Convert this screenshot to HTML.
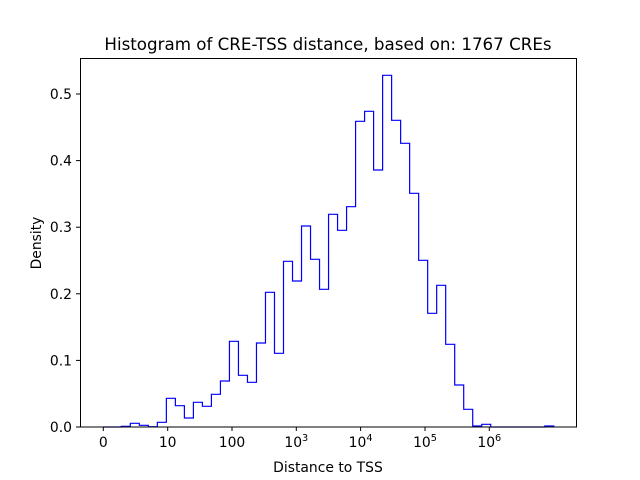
<!DOCTYPE html>
<html><head><meta charset="utf-8"><style>
html,body{margin:0;padding:0;background:#fff;}
svg{display:block;font-family:"DejaVu Sans","Liberation Sans",sans-serif;}
</style></head><body>
<svg id="s" width="640" height="480" xmlns="http://www.w3.org/2000/svg">
<rect width="640" height="480" fill="#fff"/>
<path id="h" fill="none" stroke="#0000ff" stroke-width="1.2" stroke-linejoin="miter"/>
<rect x="80.5" y="58.5" width="496" height="368.5" fill="none" stroke="#000" stroke-width="1"/>
<g stroke="#000" stroke-width="1">
<line x1="103.3" y1="427" x2="103.3" y2="431"/>
<line x1="167.7" y1="427" x2="167.7" y2="431"/>
<line x1="232" y1="427" x2="232" y2="431"/>
<line x1="296.3" y1="427" x2="296.3" y2="431"/>
<line x1="360.6" y1="427" x2="360.6" y2="431"/>
<line x1="425" y1="427" x2="425" y2="431"/>
<line x1="489.3" y1="427" x2="489.3" y2="431"/>
<line x1="76" y1="427" x2="80" y2="427"/>
<line x1="76" y1="360.4" x2="80" y2="360.4"/>
<line x1="76" y1="293.8" x2="80" y2="293.8"/>
<line x1="76" y1="227.2" x2="80" y2="227.2"/>
<line x1="76" y1="160.6" x2="80" y2="160.6"/>
<line x1="76" y1="94" x2="80" y2="94"/>
</g>
<g font-size="13.9" fill="#000" text-anchor="middle">
<text x="103.3" y="447">0</text>
<text x="167.7" y="447">10</text>
<text x="232" y="447">100</text>
<text x="296.3" y="447">10<tspan font-size="9.7" dy="-6">3</tspan></text>
<text x="360.6" y="447">10<tspan font-size="9.7" dy="-6">4</tspan></text>
<text x="425" y="447">10<tspan font-size="9.7" dy="-6">5</tspan></text>
<text x="489.3" y="447">10<tspan font-size="9.7" dy="-6">6</tspan></text>
</g>
<g font-size="13.9" fill="#000" text-anchor="end">
<text x="72" y="432">0.0</text>
<text x="72" y="365.4">0.1</text>
<text x="72" y="298.8">0.2</text>
<text x="72" y="232.2">0.3</text>
<text x="72" y="165.6">0.4</text>
<text x="72" y="99">0.5</text>
</g>
<text x="328" y="472" font-size="13.9" text-anchor="middle">Distance to TSS</text>
<text transform="translate(41,243) rotate(-90)" font-size="13.9" text-anchor="middle">Density</text>
<text x="328" y="50" font-size="16.7" text-anchor="middle">Histogram of CRE-TSS distance, based on: 1767 CREs</text>
</svg>
<script>
var y=[427,427,426.3,423.3,425.3,426.7,422.3,398.3,405.7,418,402.3,406.3,394.3,381,341.3,375.3,382.3,343,292.3,353.3,261.3,281,226,259.3,289.3,214.3,230.3,206.7,121.3,111.3,170,75.3,120.3,143.3,193.3,260.3,313.3,285.3,344.3,385,409.3,426,424.3,427,427,427,427,427,427,426];
var x0=103.3,w=9.01,d="M"+x0+",427";
for(var i=0;i<y.length;i++){var a=x0+i*w,b=x0+(i+1)*w;d+=" L"+a.toFixed(2)+","+y[i]+" L"+b.toFixed(2)+","+y[i];}
d+=" L"+(x0+y.length*w).toFixed(2)+",427";
document.getElementById("h").setAttribute("d",d);
</script>
</body></html>
